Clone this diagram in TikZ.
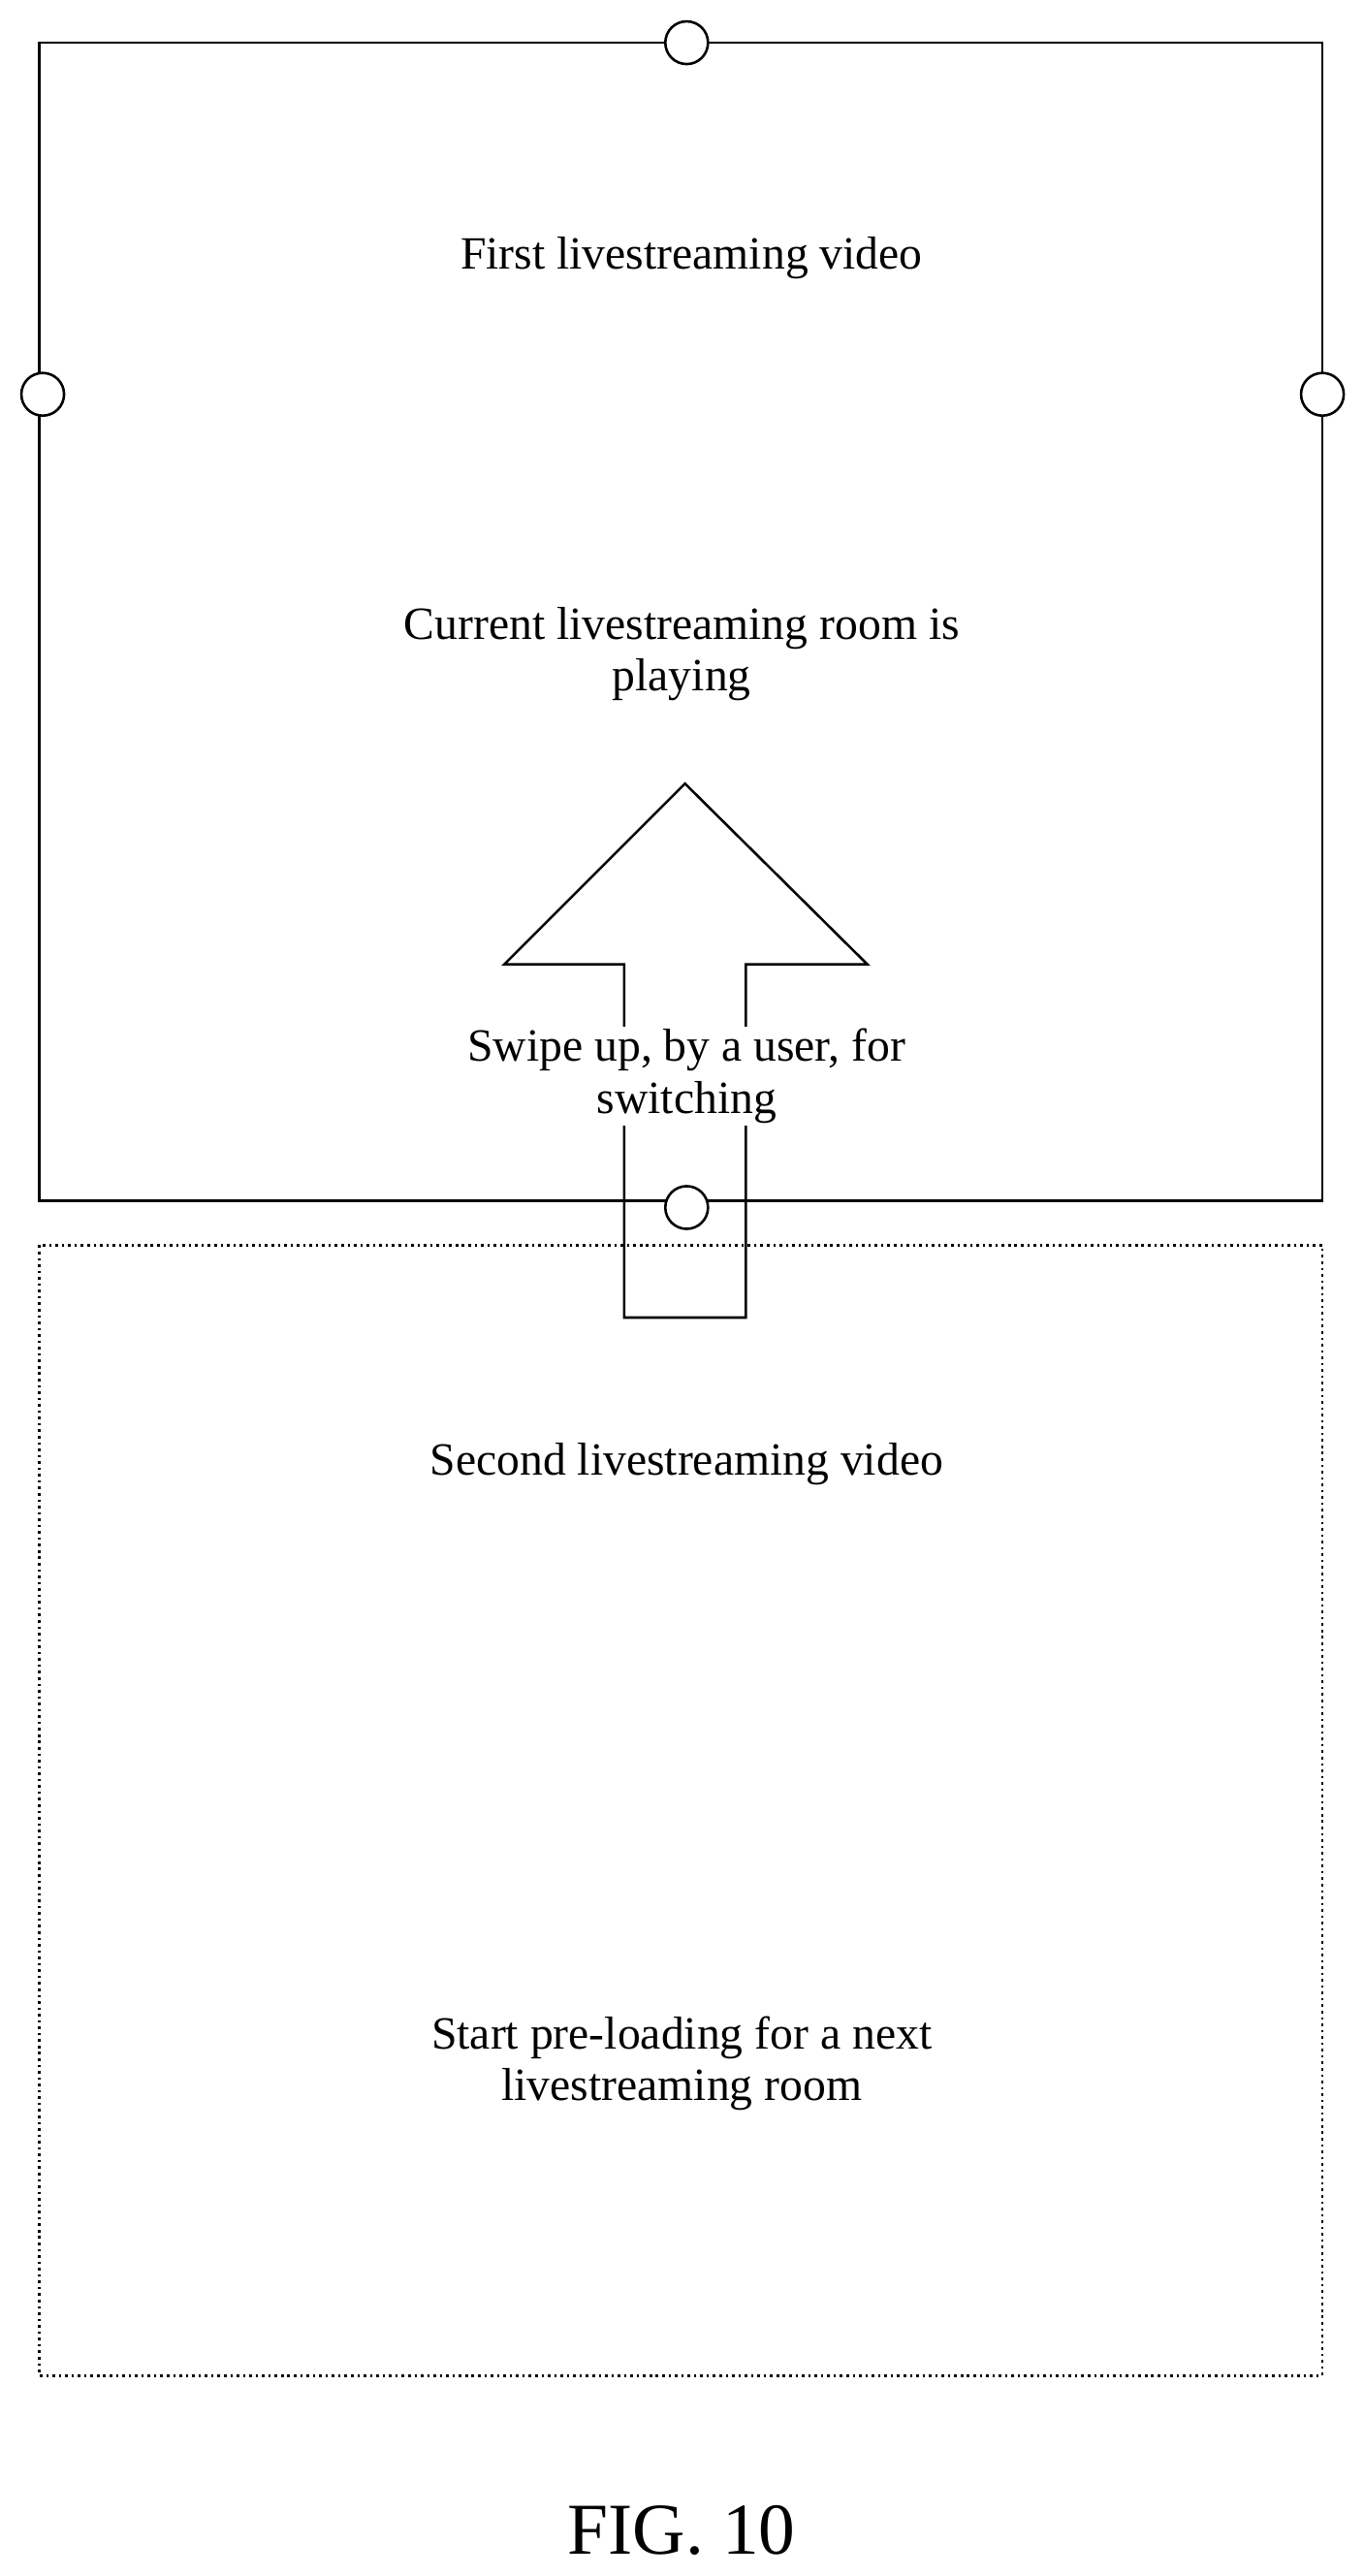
\documentclass[tikz,border=0pt]{standalone}
\usepackage{fontspec}
\setmainfont{Liberation Serif}
\begin{document}
\begin{tikzpicture}[x=0.03cm,y=-0.03cm,line width=1.3pt,
  lbl/.style={align=center,font=\fontsize{24}{27}\selectfont},
  knob/.style={circle,draw,fill=white,minimum size=0.78cm,inner sep=0pt}]
\useasboundingbox (0,0) rectangle (830,1568);
\draw (24,26) rectangle (805,731);
\draw[dotted] (24,758) rectangle (805,1446);
\draw (417,477) -- (528,587) -- (454,587) -- (454,802) -- (380,802) -- (380,587) -- (307,587) -- cycle;
\node[knob] (k1) at (418,26) {};
\node[knob] (k2) at (26,240) {};
\node[knob] (k3) at (805,240) {};
\node[knob] (k4) at (418,735) {};
\node[lbl] (t1) at (421,157) {First livestreaming video};
\node[lbl] (t2) at (415,398) {Current livestreaming room is\\playing};
\node[lbl,fill=white,inner sep=1pt] (t3) at (418,655) {Swipe up, by a user, for\\switching};
\node[lbl] (t4) at (418,891) {Second livestreaming video};
\node[lbl] (t5) at (415,1256) {Start pre-loading for a next\\livestreaming room};
\node[font=\fontsize{38}{42}\selectfont] (f) at (415,1540) {FIG. 10};
\end{tikzpicture}
\end{document}
